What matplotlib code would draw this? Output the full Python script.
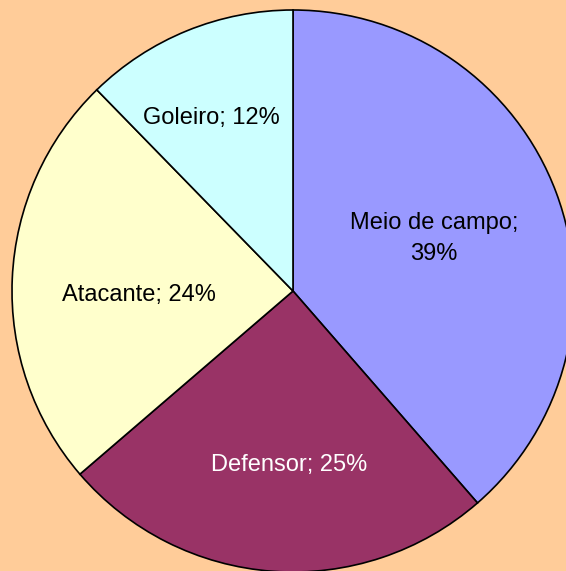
import matplotlib
matplotlib.use("Agg")
import matplotlib.pyplot as plt
import numpy as np

# Posições dos jogadores (%)
labels = ["Meio de campo;\n39%", "Defensor; 25%", "Atacante; 24%", "Goleiro; 12%"]
values = [38.6, 25.1, 24.0, 12.3]
colors = ["#9999FF", "#993366", "#FFFFCC", "#CCFFFF"]
text_colors = ["black", "white", "black", "black"]
label_dist = [0.54, 0.61, 0.55, 0.69]
label_turn = [1.0, 2.8, 2.8, 2.8]  # rótulos levemente girados (graus)

W, H = 566, 571
fig = plt.figure(figsize=(W / 100, H / 100), dpi=100, facecolor="#FFCC99")
ax = fig.add_axes([0, 0, 1, 1])
ax.set_facecolor("#FFCC99")

cx, cy, r = 293, H - 291, 281
wedges, _ = ax.pie(values, colors=colors, startangle=90, counterclock=False,
                   center=(cx, cy), radius=r,
                   wedgeprops=dict(edgecolor="black", linewidth=1.2))

for w, lab, tc, d, t in zip(wedges, labels, text_colors, label_dist, label_turn):
    mid = np.deg2rad((w.theta1 + w.theta2) / 2 + t)
    ax.text(cx + d * r * np.cos(mid), cy + d * r * np.sin(mid) - 3, lab,
            ha="center", va="center", color=tc, fontsize=17,
            family="Liberation Sans", linespacing=1.55)

ax.set_xlim(0, W)
ax.set_ylim(0, H)
ax.set_aspect("equal")
ax.axis("off")

fig.savefig("out.png", dpi=100, facecolor="#FFCC99")
